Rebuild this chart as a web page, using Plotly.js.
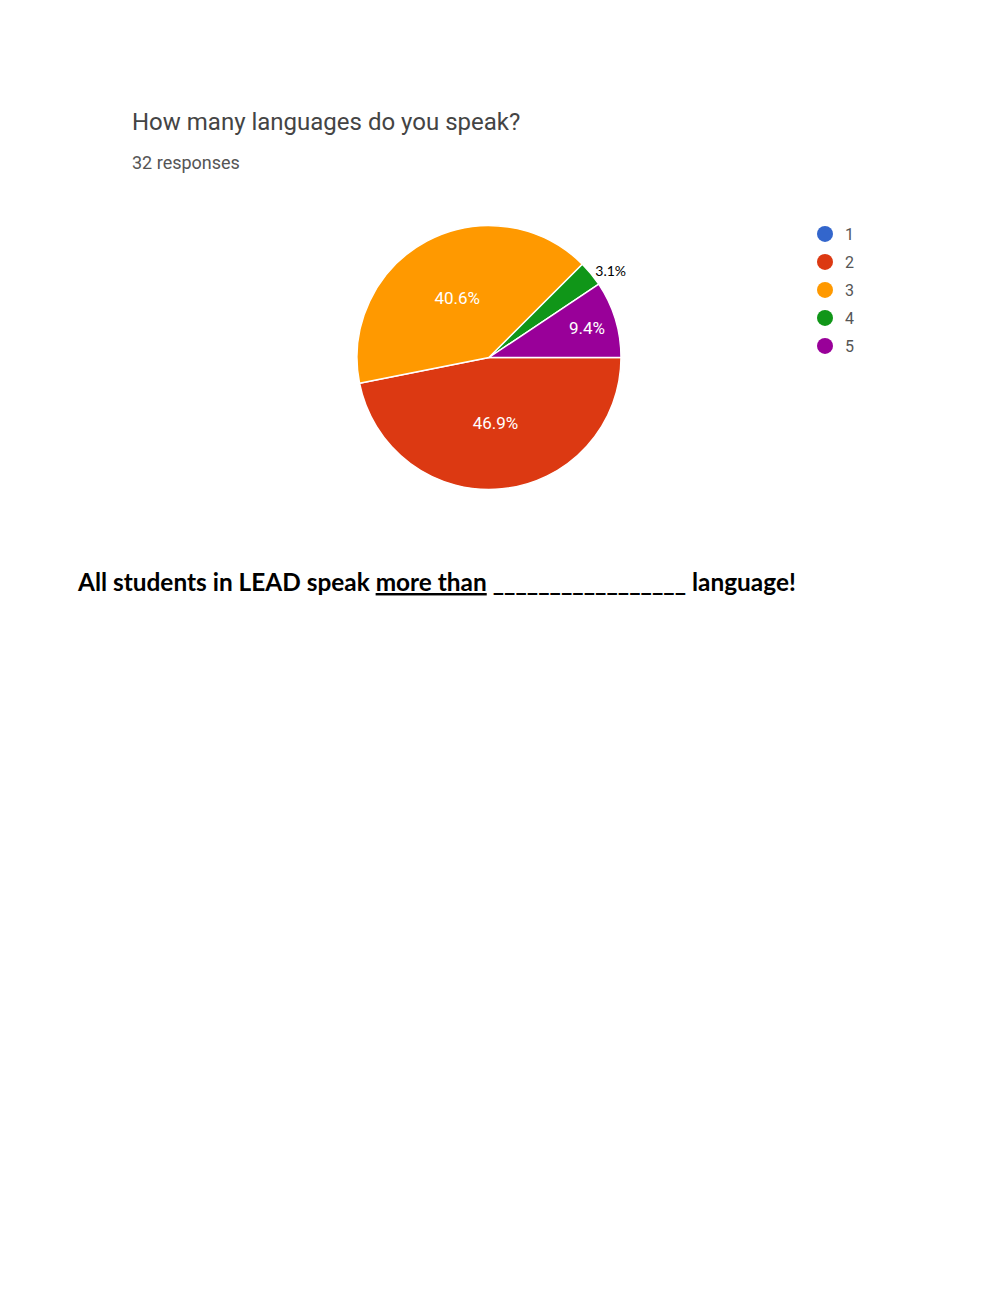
<!DOCTYPE html>
<html>
<head>
<meta charset="utf-8">
<script src="https://cdn.plot.ly/plotly-3.0.1.min.js"></script>
<style>
  html, body { margin: 0; padding: 0; background: #fff; }
  #chart { width: 1000px; height: 1291px; }
</style>
</head>
<body>
<div id="chart"></div>
<script>
// Survey answers: number of languages spoken (32 responses)
const answerLabels = ["1", "2", "3", "4", "5"];
const answerCounts = [0, 15, 13, 1, 3];
const sliceColors = ["#3366cc", "#dc3912", "#ff9900", "#109618", "#990099"];

const questionText = "How many languages do you speak?";
const responsesText = "32 responses";
const footerText =
  "<b>All students in LEAD speak <span style='text-decoration:underline'>more than</span> _________________ language!</b>";

// slice label styling: the small 4-slice gets its label outside, in black
const labelPos = ["inside", "inside", "inside", "outside", "inside"];
const labelColor = ["#fff", "#fff", "#fff", "#000", "#fff"];
const labelFamily = ["Roboto", "Roboto", "Roboto", "Lato", "Roboto"];
const labelSize = [17, 17, 17, 14, 17];

const H = 1291;
const py = (px) => 1 - px / H; // pixel row -> paper y

const traces = [
  {
    type: "pie",
    labels: answerLabels,
    values: answerCounts,
    sort: false,
    direction: "clockwise",
    rotation: 90,
    marker: { colors: sliceColors, line: { color: "#fff", width: 1.5 } },
    texttemplate: answerCounts.map((c) => (c > 0 ? "%{percent:.1%}" : "")),
    textposition: labelPos,
    insidetextorientation: "horizontal",
    textfont: { color: labelColor, family: labelFamily, size: labelSize },
    outsidetextfont: { color: labelColor, family: labelFamily, size: labelSize },
    domain: { x: [0.357, 0.621], y: [py(490), py(225)] },
    showlegend: false,
    hoverinfo: "label+percent",
  },
];

// legend entries as round markers (Google Forms style)
answerLabels.forEach((lab, i) => {
  traces.push({
    type: "scatter",
    mode: "markers",
    x: [null],
    y: [null],
    name: lab,
    legendgroup: "g" + i,
    marker: { color: sliceColors[i], size: 17, symbol: "circle" },
  });
});

const layout = {
  width: 1000,
  height: H,
  margin: { t: 0, r: 0, b: 0, l: 0 },
  paper_bgcolor: "#ffffff",
  plot_bgcolor: "#ffffff",
  font: { family: "Roboto, sans-serif", color: "#555" },
  xaxis: { visible: false, domain: [0, 0.01] },
  yaxis: { visible: false, domain: [0, 0.01] },
  showlegend: true,
  legend: {
    x: 0.805,
    y: py(217),
    xanchor: "left",
    yanchor: "top",
    font: { family: "Roboto", size: 16, color: "#555" },
    tracegroupgap: 4.2,
    itemwidth: 30,
    bgcolor: "rgba(0,0,0,0)",
  },
  annotations: [
    {
      text: questionText,
      xref: "paper", yref: "paper",
      x: 0.130, y: py(122),
      xanchor: "left", yanchor: "middle",
      showarrow: false,
      font: { family: "Roboto", size: 24, color: "#444" },
    },
    {
      text: responsesText,
      xref: "paper", yref: "paper",
      x: 0.130, y: py(162),
      xanchor: "left", yanchor: "middle",
      showarrow: false,
      font: { family: "Roboto", size: 18, color: "#555" },
    },
    {
      text: footerText,
      xref: "paper", yref: "paper",
      x: 0.075, y: py(582),
      xanchor: "left", yanchor: "middle",
      showarrow: false,
      font: { family: "Lato", size: 24.4, color: "#000" },
    },
  ],
};

Plotly.newPlot("chart", traces, layout, { displayModeBar: false, staticPlot: true });
</script>
</body>
</html>
